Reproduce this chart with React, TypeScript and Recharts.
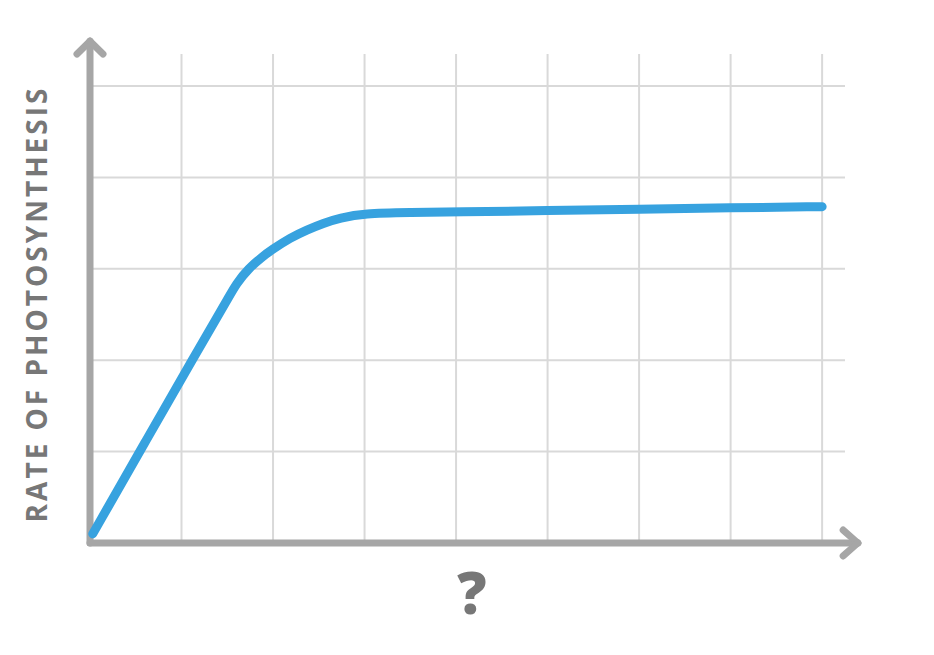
import React from "react";
import { LineChart, Line, XAxis, YAxis, ReferenceLine } from "recharts";

const xTicks = [1, 2, 3, 4, 5, 6, 7, 8];
const yTicks = [1, 2, 3, 4, 5];
const xValues = [0.03, 0.6, 1.18, 1.33, 1.5, 1.6, 1.73, 1.88, 1.99, 2.19, 2.37, 2.55, 2.73, 2.99, 3.5, 4, 5, 6, 7, 8];
const rateValues = [0.1, 1.1, 2.11, 2.37, 2.66, 2.84, 3.0, 3.13, 3.21, 3.34, 3.425, 3.5, 3.555, 3.607, 3.615, 3.622, 3.637, 3.652, 3.667, 3.68];
const yLabel = "RATE OF PHOTOSYNTHESIS";
const xLabel = "?";

const data = xValues.map((x, i) => ({ x, rate: rateValues[i] }));

const AXIS = "#a6a6a6";
const GRID = "#d9d9d9";
const BLUE = "#37a2df";
const TEXT = "#777777";

const axisProps = {
  ifOverflow: "visible" as const,
  stroke: AXIS,
  strokeWidth: 7,
  strokeLinecap: "round" as const,
};

export default function App() {
  return (
    <div style={{ position: "absolute", left: 0, top: 0, width: 934, height: 655 }}>
      <LineChart
        width={934}
        height={655}
        data={data}
        margin={{ top: 54, right: 89, bottom: 112, left: 90 }}
      >
        <XAxis type="number" dataKey="x" domain={[0, 8.25]} ticks={xTicks} hide />
        <YAxis type="number" domain={[0, 5.35]} ticks={yTicks} hide />
        {xTicks.map((t) => (
          <ReferenceLine key={`vx${t}`} x={t} stroke={GRID} strokeWidth={2} />
        ))}
        {yTicks.map((t) => (
          <ReferenceLine key={`hy${t}`} y={t} stroke={GRID} strokeWidth={2} />
        ))}
        <ReferenceLine segment={[{ x: 0, y: 0 }, { x: 0, y: 5.49 }]} {...axisProps} />
        <ReferenceLine segment={[{ x: 0, y: 0 }, { x: 8.39, y: 0 }]} {...axisProps} />
        <ReferenceLine segment={[{ x: -0.142, y: 5.35 }, { x: 0, y: 5.49 }]} {...axisProps} />
        <ReferenceLine segment={[{ x: 0.142, y: 5.35 }, { x: 0, y: 5.49 }]} {...axisProps} />
        <ReferenceLine segment={[{ x: 8.23, y: 0.142 }, { x: 8.39, y: 0 }]} {...axisProps} />
        <ReferenceLine segment={[{ x: 8.23, y: -0.142 }, { x: 8.39, y: 0 }]} {...axisProps} />
        <Line
          type="basis"
          dataKey="rate"
          stroke={BLUE}
          strokeWidth={9}
          strokeLinecap="round"
          strokeLinejoin="round"
          dot={false}
          activeDot={false}
          isAnimationActive={false}
        />
      </LineChart>
      <div
        style={{
          position: "absolute",
          left: 36,
          top: 304,
          transform: "translate(-50%, -50%) rotate(-90deg)",
          whiteSpace: "nowrap",
          fontFamily: "'Open Sans', sans-serif",
          fontWeight: 700,
          fontSize: 28,
          letterSpacing: 3,
          color: TEXT,
        }}
      >
        {yLabel}
      </div>
      <div
        style={{
          position: "absolute",
          left: 472,
          top: 592,
          transform: "translate(-50%, -50%)",
          fontFamily: "'Open Sans', sans-serif",
          fontWeight: 800,
          fontSize: 58,
          lineHeight: 1,
          color: TEXT,
        }}
      >
        {xLabel}
      </div>
    </div>
  );
}
